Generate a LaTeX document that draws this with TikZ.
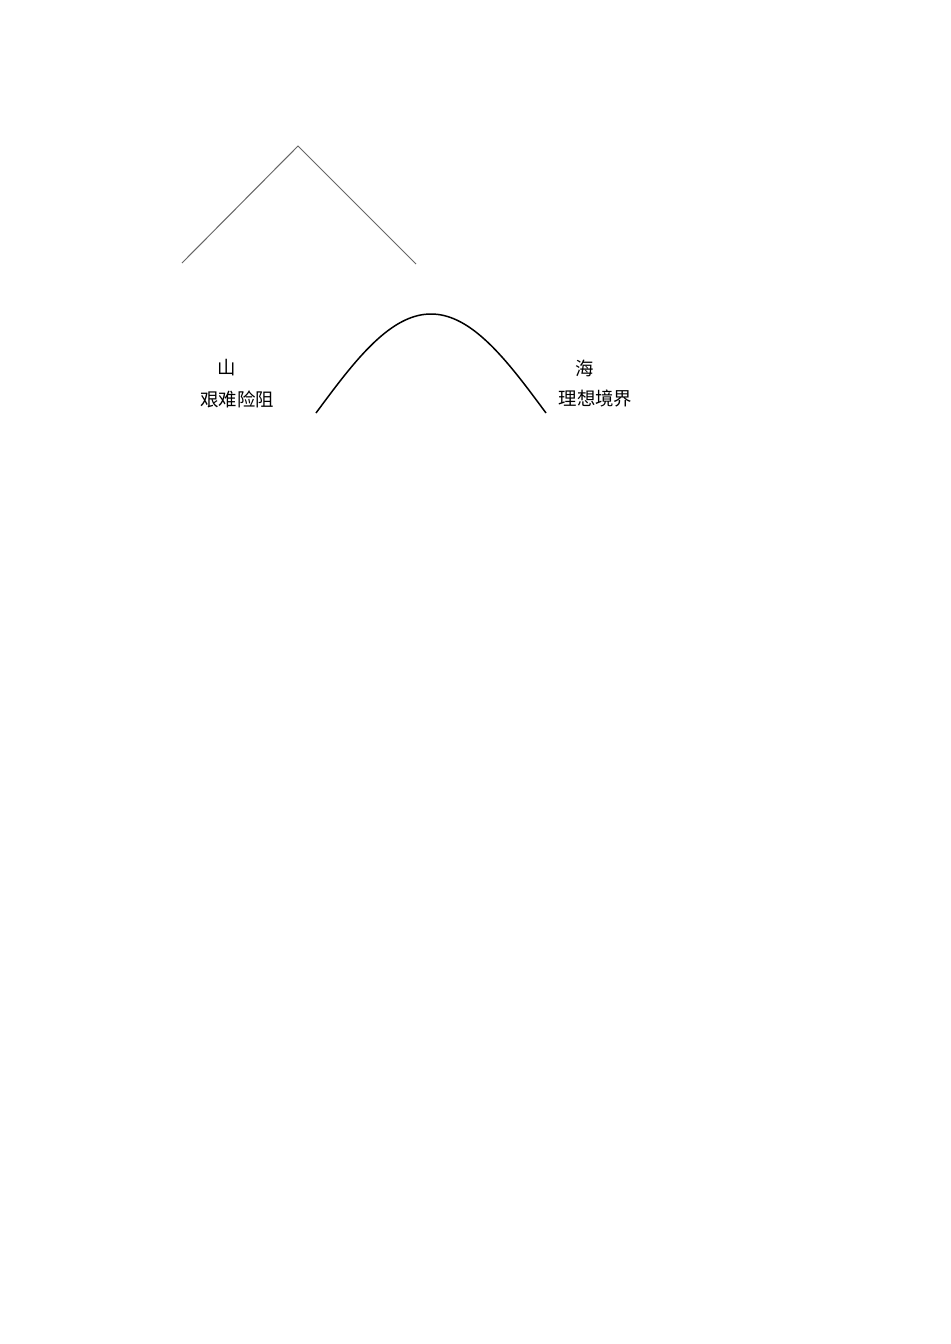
\documentclass[tikz,border=0pt]{standalone}
\usepackage{fontspec}
\newfontfamily\cjk{Noto Sans CJK SC}
\begin{document}
\begin{tikzpicture}[x=0.5pt,y=-0.5pt,
  lbl/.style={inner sep=0pt, font=\cjk\fontsize{9.2pt}{11pt}\selectfont}]
\useasboundingbox (0,0) rectangle (950,1344);
\fill[white] (0,0) rectangle (950,1344);
% triangle (mountain)
\coordinate (tl) at (182,263);
\coordinate (ta) at (298,146);
\coordinate (tr) at (416,264);
\draw[gray!80!black, line width=0.5pt] (tl) -- (ta) -- (tr);
% curve
\draw[black, line width=0.75pt] plot[domain=0:180, samples=80] ({316+1.27778*\x}, {413-99*sin(\x)});
% labels
\node[lbl] (shan) at (227,368) {山};
\node[lbl] (shand) at (237,399) {艰难险阻};
\node[lbl] (hai) at (585,368) {海};
\node[lbl] (haid) at (595.5,399) {理想境界};
\end{tikzpicture}
\end{document}
